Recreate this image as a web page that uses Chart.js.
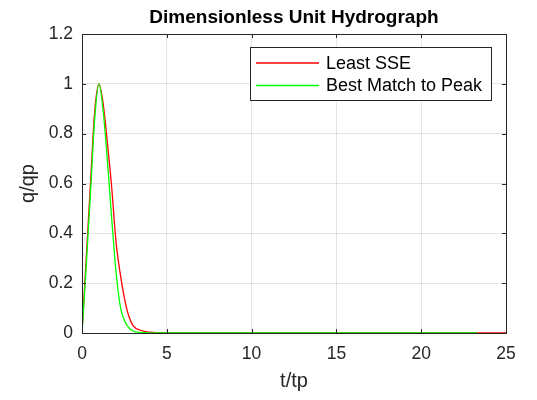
<!DOCTYPE html>
<html lang="en">
<head>
    <meta charset="UTF-8">
    <title>Dimensionless Unit Hydrograph</title>
    <script src="https://cdn.jsdelivr.net/npm/chart.js"></script>
    <style>
        body { margin: 0; background: #ffffff; }
        #wrap { width: 537px; height: 400px; }
    </style>
</head>
<body>
    <div id="wrap"><canvas id="uhChart" width="537" height="400"></canvas></div>

    <script>
        // values
        const tLeastSSE = [0, 0.25, 0.5, 0.75, 1, 1.25, 1.5, 1.75, 2, 2.25, 2.5, 2.75, 3, 3.5, 4, 4.5, 5, 10, 15, 20, 25];
        const qLeastSSE = [0, 0.3, 0.6, 0.89, 1, 0.92, 0.76, 0.585, 0.37, 0.24, 0.14, 0.07, 0.031, 0.01, 0.003, 0.001, 0, 0, 0, 0, 0];
        const tBestPeak = [0, 0.25, 0.5, 0.75, 1, 1.25, 1.5, 1.75, 2, 2.25, 2.5, 2.75, 3, 3.5, 4, 5, 10, 15, 20, 23.3];
        const qBestPeak = [0, 0.27, 0.56, 0.86, 1, 0.89, 0.69, 0.46, 0.25, 0.11, 0.05, 0.022, 0.008, 0.002, 0, 0, 0, 0, 0, 0];
        const seriesNames = ['Least SSE', 'Best Match to Peak'];
        const xTicks = [0, 5, 10, 15, 20, 25];
        const yTicks = [0, 0.2, 0.4, 0.6, 0.8, 1, 1.2];
        const chartTitle = 'Dimensionless Unit Hydrograph';

        const FONT = "'Liberation Sans', Arial, Helvetica, sans-serif";
        const INK = '#262626';

        // MATLAB style box, inward ticks, title over the axes and legend
        const matlabBox = {
            id: 'matlabBox',
            afterDatasetsDraw(chart) {
                const { ctx, chartArea: a, scales } = chart;
                ctx.save();
                ctx.strokeStyle = INK;
                ctx.lineWidth = 1;
                ctx.strokeRect(a.left + 0.5, a.top + 0.5, a.right - a.left, a.bottom - a.top);
                ctx.beginPath();
                xTicks.forEach(v => {
                    const x = Math.round(scales.x.getPixelForValue(v)) + 0.5;
                    ctx.moveTo(x, a.bottom); ctx.lineTo(x, a.bottom - 4);
                    ctx.moveTo(x, a.top); ctx.lineTo(x, a.top + 4);
                });
                yTicks.forEach(v => {
                    const y = Math.round(scales.y.getPixelForValue(v)) + 0.5;
                    ctx.moveTo(a.left, y); ctx.lineTo(a.left + 4, y);
                    ctx.moveTo(a.right, y); ctx.lineTo(a.right - 4, y);
                });
                ctx.stroke();
                ctx.restore();
            },
            afterDraw(chart) {
                const { ctx, chartArea: a } = chart;
                ctx.save();
                ctx.fillStyle = '#000000';
                ctx.font = 'bold 19px ' + FONT;
                ctx.textAlign = 'center';
                ctx.textBaseline = 'middle';
                ctx.fillText(chartTitle, (a.left + a.right) / 2, 18);

                const box = { x: 250.5, y: 47.5, w: 241, h: 53 };
                ctx.fillStyle = '#ffffff';
                ctx.fillRect(box.x, box.y, box.w, box.h);
                ctx.strokeStyle = INK;
                ctx.lineWidth = 1;
                ctx.strokeRect(box.x, box.y, box.w, box.h);
                ctx.font = '18px ' + FONT;
                ctx.textAlign = 'left';
                chart.data.datasets.forEach((ds, i) => {
                    const y = 63 + i * 22.5;
                    ctx.strokeStyle = ds.borderColor;
                    ctx.lineWidth = 1.3;
                    ctx.beginPath();
                    ctx.moveTo(256, y);
                    ctx.lineTo(319, y);
                    ctx.stroke();
                    ctx.fillStyle = '#000000';
                    ctx.fillText(ds.label, 326, y + 1);
                });
                ctx.restore();
            }
        };

        new Chart(document.getElementById('uhChart'), {
            type: 'line',
            data: {
                datasets: [
                    {
                        label: seriesNames[0],
                        data: tLeastSSE.map((t, i) => ({ x: t, y: qLeastSSE[i] })),
                        borderColor: '#ff0000',
                        borderWidth: 1.3,
                        pointRadius: 0,
                        cubicInterpolationMode: 'monotone',
                        order: 1
                    },
                    {
                        label: seriesNames[1],
                        data: tBestPeak.map((t, i) => ({ x: t, y: qBestPeak[i] })),
                        borderColor: '#00ff00',
                        borderWidth: 1.3,
                        pointRadius: 0,
                        cubicInterpolationMode: 'monotone',
                        order: 0
                    }
                ]
            },
            options: {
                responsive: false,
                animation: false,
                events: [],
                layout: { padding: { left: 0, right: 31, top: 34, bottom: 0 } },
                plugins: {
                    legend: { display: false },
                    tooltip: { enabled: false },
                    title: { display: false }
                },
                scales: {
                    x: {
                        type: 'linear',
                        min: 0,
                        max: 25,
                        afterBuildTicks: s => { s.ticks = xTicks.map(v => ({ value: v })); },
                        afterFit: s => { s.height = 67; },
                        ticks: {
                            color: INK,
                            padding: 11,
                            maxRotation: 0,
                            font: { family: FONT, size: 17.5 }
                        },
                        grid: { color: 'rgba(0,0,0,0.1)', drawTicks: false },
                        border: { display: false },
                        title: {
                            display: true,
                            text: 't/tp',
                            color: INK,
                            font: { family: FONT, size: 20 },
                            padding: { top: 0, bottom: 7 }
                        }
                    },
                    y: {
                        min: 0,
                        max: 1.2,
                        afterBuildTicks: s => { s.ticks = yTicks.map(v => ({ value: v })); },
                        afterFit: s => { s.width = 82; },
                        ticks: {
                            color: INK,
                            padding: 9,
                            font: { family: FONT, size: 17.5 },
                            callback: v => String(+v.toFixed(1))
                        },
                        grid: { color: 'rgba(0,0,0,0.1)', drawTicks: false },
                        border: { display: false },
                        title: {
                            display: true,
                            text: 'q/qp',
                            color: INK,
                            font: { family: FONT, size: 20 },
                            padding: { top: 16, bottom: 0 }
                        }
                    }
                }
            },
            plugins: [matlabBox]
        });
    </script>
</body>
</html>
